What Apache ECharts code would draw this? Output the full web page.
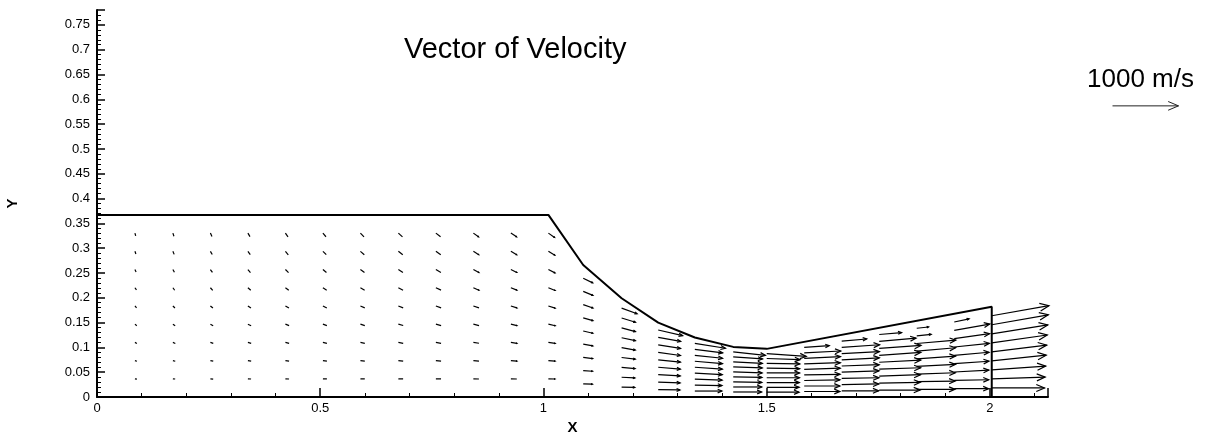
<!DOCTYPE html>
<html>
<head>
<meta charset="utf-8">
<title>Vector of Velocity</title>
<script src="https://cdn.jsdelivr.net/npm/echarts@6/dist/echarts.min.js"></script>
<style>
html, body { margin: 0; padding: 0; background: #fff; }
#chart { width: 1207px; height: 433px; }
</style>
</head>
<body>
<div id="chart"></div>
<script>
// nozzle wall outline
const wallX = [0, 1.011, 1.089, 1.175, 1.257, 1.339, 1.425, 1.5, 2.004, 2.004];
const wallY = [0.367, 0.367, 0.266, 0.199, 0.150, 0.120, 0.101, 0.097, 0.182, 0];

// mesh columns carrying vectors and the channel height there
const colX = [0.085, 0.170, 0.254, 0.338, 0.422, 0.506, 0.590, 0.675, 0.759, 0.843, 0.927, 1.011,
              1.089, 1.175, 1.257, 1.339, 1.425, 1.500, 1.584, 1.668, 1.752, 1.836, 1.920, 2.004];
const colH = [0.367, 0.367, 0.367, 0.367, 0.367, 0.367, 0.367, 0.367, 0.367, 0.367, 0.367, 0.367,
              0.266, 0.199, 0.150, 0.120, 0.101, 0.097, 0.111, 0.125, 0.140, 0.154, 0.168, 0.182];
// mesh rows, as a fraction of the local height
const rowFrac = [0.1, 0.2, 0.3, 0.4, 0.5, 0.6, 0.7, 0.8, 0.9];

// speed (m/s) per column, bottom row first
const speeds = [
  [30, 32, 34, 36, 38, 40, 40, 42, 42],
  [35, 37, 40, 42, 44, 46, 48, 50, 50],
  [42, 44, 46, 48, 50, 52, 54, 56, 56],
  [48, 50, 52, 54, 56, 58, 60, 62, 62],
  [55, 56, 58, 60, 62, 64, 66, 68, 68],
  [60, 61, 62, 64, 66, 68, 70, 72, 72],
  [66, 67, 68, 70, 72, 74, 76, 78, 78],
  [72, 73, 74, 76, 78, 80, 82, 84, 84],
  [78, 79, 80, 82, 84, 86, 88, 90, 90],
  [84, 85, 86, 88, 90, 92, 94, 96, 96],
  [90, 91, 92, 94, 96, 98, 100, 102, 102],
  [100, 102, 104, 106, 108, 110, 112, 114, 114],
  [140, 142, 145, 148, 150, 152, 155, 158, 160],
  [200, 202, 205, 208, 210, 213, 216, 220, 250],
  [330, 332, 334, 336, 338, 340, 342, 345, 380],
  [410, 412, 414, 416, 418, 420, 422, 425, 470],
  [430, 432, 434, 436, 438, 440, 442, 445, 490],
  [490, 492, 494, 496, 498, 500, 502, 505, 600],
  [540, 540, 542, 544, 546, 548, 550, 555, 380],
  [560, 562, 564, 566, 568, 570, 572, 575, 380],
  [620, 622, 625, 628, 630, 632, 635, 560, 340],
  [580, 582, 585, 588, 590, 592, 595, 220, 180],
  [520, 522, 525, 528, 530, 535, 540, 545, 230],
  [800, 810, 820, 830, 840, 850, 860, 870, 880]
];
// flow angle (deg, + is upward) per column, bottom row first
const angles = [
  [-10, -20, -30, -40, -50, -55, -65, -70, -75],
  [-5, -15, -25, -35, -45, -55, -62, -68, -72],
  [-5, -12, -20, -30, -40, -48, -55, -60, -65],
  [-4, -10, -18, -26, -35, -42, -50, -55, -60],
  [-3, -8, -15, -22, -30, -38, -44, -50, -55],
  [-2, -7, -13, -20, -27, -33, -40, -45, -50],
  [-2, -6, -12, -18, -24, -30, -36, -41, -46],
  [-2, -6, -11, -16, -22, -28, -33, -38, -42],
  [-2, -5, -10, -15, -20, -25, -30, -35, -38],
  [-2, -5, -9, -14, -19, -24, -28, -32, -36],
  [-2, -5, -9, -13, -18, -22, -26, -30, -33],
  [-2, -5, -9, -13, -18, -22, -27, -31, -35],
  [-2, -4, -7, -10, -13, -16, -19, -22, -26],
  [-1, -3, -5, -7, -10, -12, -15, -17, -20],
  [-1, -2, -3, -5, -6, -8, -9, -10, -13],
  [0, -1, -2, -3, -4, -5, -6, -7, -9],
  [0, 0, -1, -1, -2, -2, -3, -4, -6],
  [0, 0, 0, 0, 0, -1, -1, -2, -4],
  [0, 0, 1, 1, 2, 2, 3, 3, 4],
  [0, 1, 1, 2, 2, 3, 3, 4, 5],
  [0, 1, 2, 2, 3, 4, 4, 5, 5],
  [0, 1, 2, 3, 4, 5, 5, 6, 6],
  [0, 1, 3, 4, 5, 6, 8, 10, 12],
  [0, 2, 4, 6, 7, 8, 9, 10, 10]
];

const refSpeed = 1000;   // m/s of the key arrow
const refLen = 66;       // its length on screen, px
const FONT = 'Liberation Sans, Arial, sans-serif';

const vectors = [];
colX.forEach(function (x, c) {
  rowFrac.forEach(function (f, j) {
    const a = angles[c][j] * Math.PI / 180;
    vectors.push([x, f * colH[c], speeds[c][j] * Math.cos(a), speeds[c][j] * Math.sin(a)]);
  });
});
const wall = wallX.map(function (x, i) { return [x, wallY[i]]; });

function arrowShapes(x0, y0, dx, dy) {
  const len = Math.sqrt(dx * dx + dy * dy);
  const x1 = x0 + dx, y1 = y0 + dy;
  const shapes = [{ type: 'line', shape: { x1: x0, y1: y0, x2: x1, y2: y1 } }];
  if (len > 6) {
    const h = len * 0.17, ang = Math.atan2(dy, dx), w = 0.4;
    shapes.push({
      type: 'polyline',
      shape: { points: [
        [x1 - h * Math.cos(ang - w), y1 - h * Math.sin(ang - w)],
        [x1, y1],
        [x1 - h * Math.cos(ang + w), y1 - h * Math.sin(ang + w)]
      ] }
    });
  }
  return shapes;
}

const chart = echarts.init(document.getElementById('chart'));

chart.setOption({
  backgroundColor: '#fff',
  animation: false,
  title: {
    text: 'Vector of Velocity',
    left: 399,
    top: 30,
    textStyle: { fontFamily: FONT, fontSize: 29, fontWeight: 'normal', color: '#000' }
  },
  grid: { left: 97, right: 159, top: 10, bottom: 36, outerBoundsMode: 'none' },
  xAxis: {
    type: 'value',
    min: 0, max: 2.13, interval: 0.5,
    name: 'X', nameLocation: 'middle', nameGap: 20,
    nameTextStyle: { fontFamily: FONT, fontSize: 15, fontWeight: 'bold', color: '#000' },
    axisLine: { show: true, lineStyle: { color: '#000', width: 2 } },
    axisTick: { inside: true, length: 9, lineStyle: { color: '#000', width: 1.5 } },
    minorTick: { show: true, splitNumber: 5, length: 4, lineStyle: { color: '#000' } },
    axisLabel: { showMaxLabel: false, margin: 5, fontFamily: FONT, fontSize: 13, color: '#000' },
    splitLine: { show: false }
  },
  yAxis: {
    type: 'value',
    min: 0, max: 0.78, interval: 0.05,
    name: 'Y', nameLocation: 'middle', nameGap: 77,
    nameTextStyle: { fontFamily: FONT, fontSize: 15, fontWeight: 'bold', color: '#000' },
    axisLine: { show: true, lineStyle: { color: '#000', width: 2 } },
    axisTick: { inside: true, length: 8, lineStyle: { color: '#000', width: 1.5 } },
    minorTick: { show: true, splitNumber: 5, length: 4, lineStyle: { color: '#000' } },
    axisLabel: { showMaxLabel: false, margin: 7, fontFamily: FONT, fontSize: 13, color: '#000' },
    splitLine: { show: false }
  },
  graphic: [
    {
      type: 'text', left: 1087, top: 67,
      style: { text: '1000 m/s', fontFamily: FONT, fontSize: 26, fill: '#000' }
    },
    {
      type: 'group', left: 1110, top: 99,
      children: arrowShapes(0, 5, refLen, 0).map(function (s) {
        s.style = { stroke: '#222', lineWidth: 1, fill: null };
        return s;
      })
    }
  ],
  series: [
    {
      type: 'line',
      data: wall,
      symbol: 'none',
      lineStyle: { color: '#000', width: 2 },
      z: 3
    },
    {
      type: 'custom',
      clip: false,
      data: vectors,
      renderItem: function (params, api) {
        const p = api.coord([api.value(0), api.value(1)]);
        const k = refLen / refSpeed;
        const shapes = arrowShapes(p[0], p[1], api.value(2) * k, -api.value(3) * k);
        return {
          type: 'group',
          children: shapes.map(function (s) {
            s.style = { stroke: '#000', lineWidth: 1.2, fill: null };
            return s;
          })
        };
      },
      z: 4
    }
  ]
});

window.addEventListener('resize', function () {
  chart.resize();
});
</script>
</body>
</html>
